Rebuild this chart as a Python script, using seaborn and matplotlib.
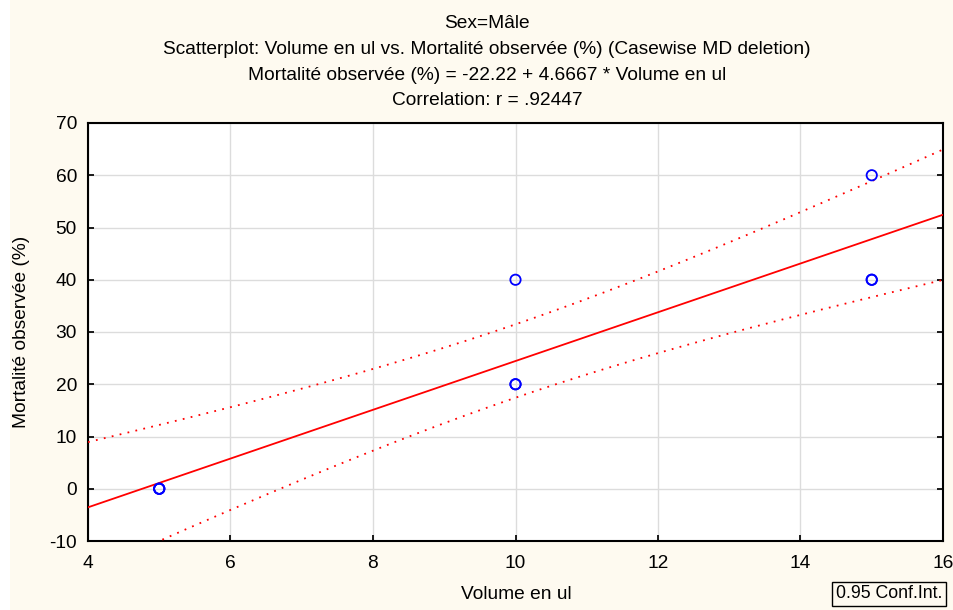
import numpy as np
import pandas as pd
import matplotlib
matplotlib.use("Agg")
import matplotlib.pyplot as plt
import seaborn as sns

# Data (Sex = Mâle)
volume = [5, 5, 5, 10, 10, 10, 15, 15, 15]
mortalite = [0, 0, 0, 20, 20, 40, 40, 40, 60]
x_ticks = [4, 6, 8, 10, 12, 14, 16]
y_ticks = [-10, 0, 10, 20, 30, 40, 50, 60, 70]
title_lines = ["Sex=Mâle",
               "Scatterplot: Volume en ul vs. Mortalité observée (%) (Casewise MD deletion)",
               "Mortalité observée (%) = -22.22 + 4.6667 * Volume en ul",
               "Correlation: r = .92447"]
x_label = "Volume en ul"
y_label = "Mortalité observée (%)"
legend_text = "0.95 Conf.Int."
conf_level = 0.95

df = pd.DataFrame({x_label: volume, y_label: mortalite})

sns.set_theme(style="whitegrid")
plt.rcParams['font.family'] = ['Liberation Sans', 'DejaVu Sans']
plt.rcParams['axes.unicode_minus'] = False

FS = 13.8
bg = "#FEFAF0"
fig = plt.figure(figsize=(9.54, 6.10), dpi=100, facecolor=bg)
fig.patches.append(plt.Rectangle((0, 0), 10 / 954, 1, transform=fig.transFigure,
                                 facecolor="white", edgecolor="none", zorder=0))
ax = fig.add_axes([88 / 954, 1 - 541 / 610, (943 - 88) / 954, (541 - 123) / 610])
ax.set_facecolor("white")
ax.set_xlim(x_ticks[0], x_ticks[-1])
ax.set_ylim(y_ticks[0], y_ticks[-1])

# regression line across the full axis
sns.regplot(data=df, x=x_label, y=y_label, ax=ax, ci=None, truncate=False,
            scatter=False, line_kws=dict(color="#FF0000", lw=1.3, zorder=3))
sns.scatterplot(data=df, x=x_label, y=y_label, ax=ax, marker="o", s=55,
                facecolors="none", edgecolors="#0000FF", linewidth=1.3, zorder=4)

# analytic confidence interval for the mean
x = np.asarray(volume, float)
y = np.asarray(mortalite, float)
n = len(x)
b, a = np.polyfit(x, y, 1)
resid = y - (a + b * x)
s = np.sqrt(np.sum(resid ** 2) / (n - 2))
sxx = np.sum((x - x.mean()) ** 2)
try:
    from scipy import stats
    tval = stats.t.ppf(0.5 + conf_level / 2, n - 2)
except Exception:
    tval = 2.364624
xs = np.linspace(x_ticks[0], x_ticks[-1], 200)
yh = a + b * xs
se = s * np.sqrt(1 / n + (xs - x.mean()) ** 2 / sxx)
for sign in (1, -1):
    ax.plot(xs, yh + sign * tval * se, color="#FF0000", lw=1.3,
            linestyle=(0, (1, 3.5)), zorder=3)

ax.set_xlim(x_ticks[0], x_ticks[-1])
ax.set_ylim(y_ticks[0], y_ticks[-1])
ax.set_xticks(x_ticks)
ax.set_yticks(y_ticks)
ax.grid(True, color="#DCDCDC", lw=1)
for sp in ax.spines.values():
    sp.set_visible(True)
    sp.set_color("black")
    sp.set_linewidth(1.5)
ax.tick_params(axis="both", labelsize=FS, colors="black", length=4, direction="in",
               pad=8, right=True, bottom=True, left=True)
ax.tick_params(axis="x", pad=10)
ax.set_xlabel(x_label, fontsize=FS, color="black")
ax.set_ylabel(y_label, fontsize=FS, color="black")
ax.xaxis.set_label_coords((516 - 88) / (943 - 88), (541 - 586) / (541 - 123))
ax.yaxis.set_label_coords((30 - 88) / (943 - 88), (541 - 332) / (541 - 123))

for i, line in enumerate(title_lines):
    fig.text(487 / 954, 1 - (23 + 26 * i) / 610, line,
             ha="center", va="center", fontsize=FS, color="black")

fig.text(889 / 954, 1 - 594 / 610, legend_text, ha="center", va="center",
         fontsize=12.8, color="black",
         bbox=dict(boxstyle="square,pad=0.2", facecolor=bg, edgecolor="black", lw=1))

fig.savefig("out.png", dpi=100, facecolor=bg)
